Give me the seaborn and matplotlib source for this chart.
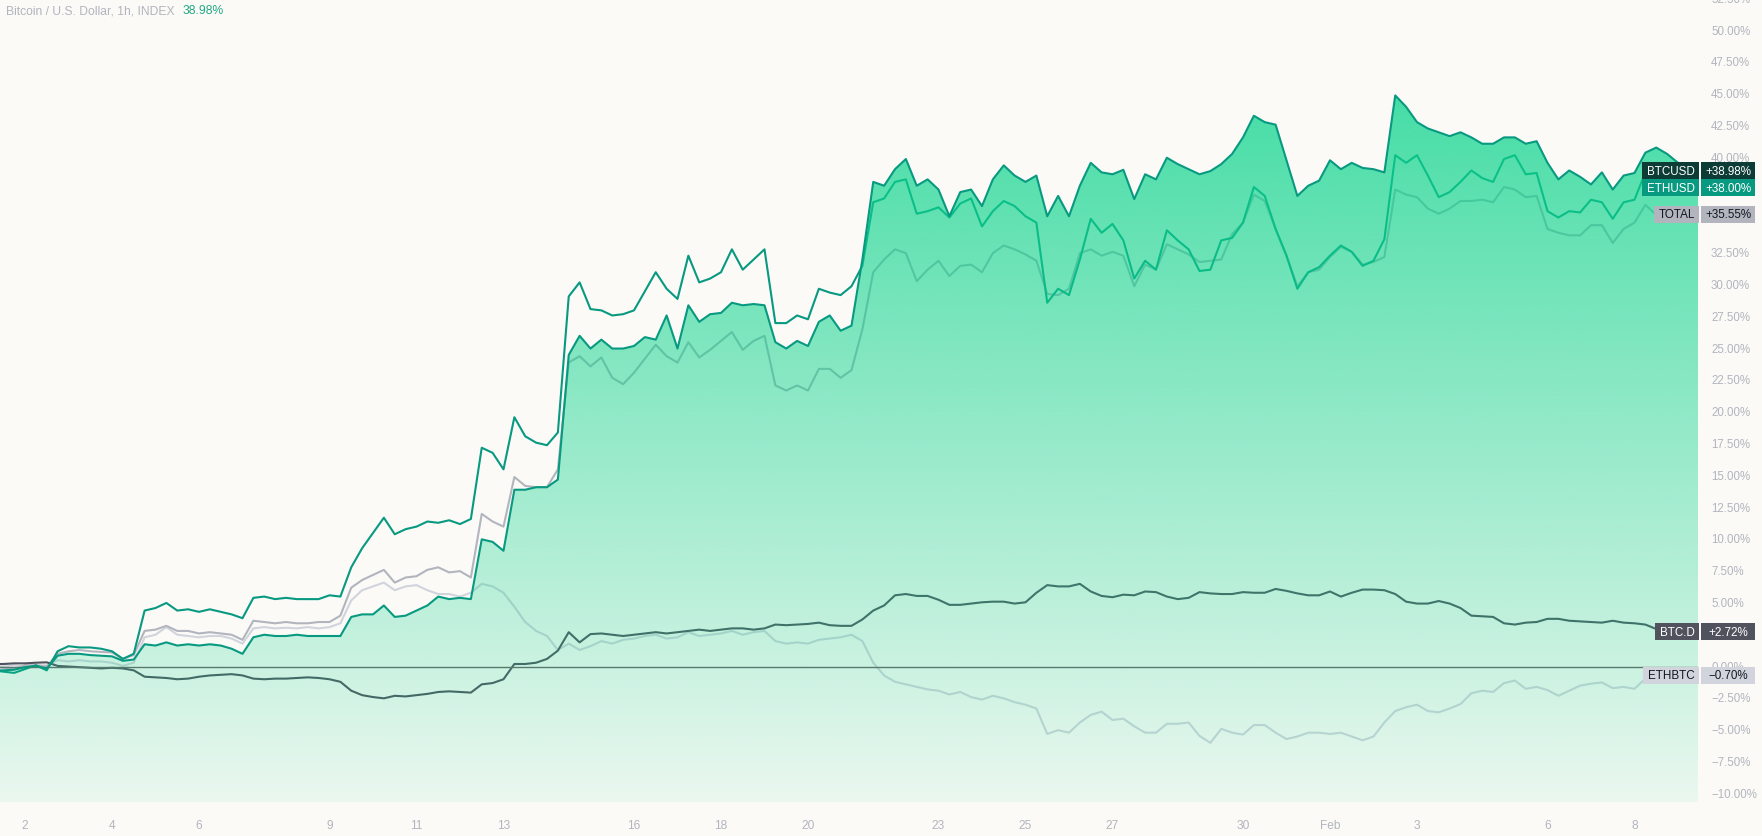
import numpy as np
import matplotlib
matplotlib.use("Agg")
import matplotlib.pyplot as plt
from matplotlib.patches import Rectangle
from matplotlib.transforms import IdentityTransform, blended_transform_factory
import seaborn as sns

OUT_PATH = "out.png"
W, H = 1762, 837
BG = "#fbfaf7"
AXIS_TXT = "#b2b5be"

# time axis: days since 2023-01-01 00:00, one reading every 6 hours
t_days = np.arange(1, 159) * 0.25

# % change (rows = one day, 4 readings each)
btcusd = [
    -0.3, -0.3, -0.25,
    -0.05, 0.05, -0.15, 0.85,   1.0, 1.0, 0.9, 0.85,   0.8, 0.45, 0.55, 1.75,
    1.65, 1.9, 1.65, 1.75,      1.65, 1.75, 1.65, 1.4,  1.0, 2.3, 2.5, 2.4,
    2.4, 2.5, 2.4, 2.4,         2.4, 2.4, 3.9, 4.1,     4.1, 4.8, 3.9, 4.0,
    4.4, 4.8, 5.5, 5.3,         5.4, 5.3, 10.0, 9.8,    9.1, 13.9, 13.9, 14.1,
    14.1, 14.7, 24.5, 26.0,     25.0, 25.7, 25.0, 25.0, 25.2, 25.9, 25.7, 27.6,
    25.0, 28.4, 27.1, 27.7,     27.8, 28.6, 28.4, 28.5, 28.4, 25.5, 25.0, 25.6,
    25.2, 27.1, 27.6, 26.4,     26.8, 32.0, 38.1, 37.8, 39.1, 39.9, 37.8, 38.3,
    37.5, 35.4, 37.3, 37.5,     36.2, 38.3, 39.4, 38.6, 38.1, 38.6, 35.4, 37.0,
    35.4, 37.8, 39.6, 38.85,    38.7, 39.05, 36.75, 38.7, 38.3, 40.0, 39.5, 39.1,
    38.7, 38.95, 39.5, 40.3,    41.6, 43.3, 42.8, 42.6, 39.8, 37.0, 37.8, 38.2,
    39.8, 39.1, 39.6, 39.2,     39.1, 38.85, 44.9, 44.0, 42.8, 42.3, 42.0, 41.7,
    42.0, 41.6, 41.1, 41.1,     41.6, 41.6, 41.1, 41.3, 39.6, 38.3, 39.0, 38.5,
    37.9, 38.85, 37.5, 38.6,    38.8, 40.4, 40.8, 40.3,
    39.6, 38.98, 38.98,
]
ethusd = [
    -0.3, -0.4, -0.5,
    -0.2, 0.1, -0.3, 1.2,       1.6, 1.5, 1.5, 1.4,     1.2, 0.6, 1.0, 4.4,
    4.6, 5.0, 4.4, 4.5,         4.3, 4.5, 4.3, 4.1,     3.8, 5.4, 5.5, 5.3,
    5.4, 5.3, 5.3, 5.3,         5.6, 5.5, 7.8, 9.3,     10.5, 11.7, 10.4, 10.8,
    11.0, 11.4, 11.3, 11.5,     11.2, 11.6, 17.2, 16.8, 15.5, 19.6, 18.1, 17.6,
    17.4, 18.4, 29.1, 30.2,     28.1, 28.0, 27.6, 27.7, 28.0, 29.5, 31.0, 29.7,
    28.9, 32.3, 30.2, 30.5,     31.0, 32.8, 31.2, 32.0, 32.8, 27.0, 27.0, 27.6,
    27.3, 29.7, 29.4, 29.2,     29.9, 31.5, 36.5, 36.8, 38.1, 38.3, 35.6, 35.8,
    36.1, 35.3, 36.4, 36.8,     34.6, 35.8, 36.6, 36.2, 35.4, 34.9, 28.6, 29.7,
    29.2, 32.0, 35.2, 34.1,     34.8, 33.5, 30.5, 31.9, 31.2, 34.3, 33.5, 32.8,
    31.1, 31.2, 33.5, 33.7,     34.9, 37.7, 37.0, 34.4, 32.3, 29.7, 31.0, 31.4,
    32.3, 33.1, 32.6, 31.5,     31.9, 33.6, 40.2, 39.6, 40.2, 38.6, 36.9, 37.3,
    38.1, 39.0, 38.4, 38.1,     39.9, 40.2, 38.7, 38.8, 35.8, 35.3, 35.8, 35.7,
    36.7, 36.5, 35.2, 36.5,     36.7, 38.85, 38.2, 37.7,
    38.2, 38.3, 38.0,
]
total = [
    0.0, -0.1, -0.2,
    0.1, 0.1, 0.0, 1.0,         1.2, 1.3, 1.2, 1.15,    1.1, 0.6, 0.9, 2.8,
    2.9, 3.2, 2.8, 2.8,         2.6, 2.7, 2.6, 2.5,     2.1, 3.6, 3.5, 3.4,
    3.5, 3.4, 3.4, 3.5,         3.5, 4.0, 6.2, 6.8,     7.2, 7.6, 6.6, 7.0,
    7.1, 7.6, 7.8, 7.4,         7.5, 7.0, 12.0, 11.4,   11.0, 14.9, 14.2, 14.1,
    14.1, 15.5, 23.9, 24.4,     23.6, 24.3, 22.7, 22.2, 23.1, 24.2, 25.3, 24.4,
    23.9, 25.5, 24.3, 24.9,     25.6, 26.3, 24.9, 25.6, 26.0, 22.1, 21.7, 22.1,
    21.7, 23.4, 23.4, 22.7,     23.3, 26.5, 31.0, 32.0, 32.8, 32.5, 30.3, 31.2,
    31.9, 30.7, 31.5, 31.6,     31.0, 32.5, 33.1, 32.8, 32.4, 31.9, 29.3, 29.2,
    29.7, 32.5, 32.8, 32.3,     32.6, 32.3, 29.9, 31.6, 31.2, 33.2, 32.8, 32.4,
    31.8, 31.9, 32.0, 34.0,     34.9, 37.1, 36.6, 34.4, 32.3, 29.9, 31.0, 31.2,
    32.2, 33.0, 32.6, 31.6,     31.8, 32.2, 37.5, 37.1, 36.9, 36.0, 35.6, 36.0,
    36.6, 36.6, 36.7, 36.5,     37.7, 37.5, 36.9, 37.0, 34.4, 34.1, 33.9, 33.9,
    34.7, 34.7, 33.3, 34.4,     34.9, 36.3, 35.5, 35.4,
    35.7, 35.55, 35.55,
]
btc_d = [
    0.2, 0.2, 0.25,
    0.25, 0.3, 0.33, 0.05,      0.0, -0.05, -0.1, -0.15, -0.1, -0.15, -0.3, -0.8,
    -0.85, -0.9, -1.0, -0.95,   -0.8, -0.7, -0.65, -0.6, -0.7, -0.95, -1.0, -0.95,
    -0.95, -0.9, -0.85, -0.9,   -1.0, -1.2, -1.9, -2.25, -2.4, -2.5, -2.3, -2.35,
    -2.25, -2.15, -2.0, -1.95,  -2.0, -2.05, -1.4, -1.3, -1.0, 0.2, 0.2, 0.3,
    0.6, 1.25, 2.7, 1.9,        2.55, 2.6, 2.5, 2.4,    2.5, 2.6, 2.7, 2.6,
    2.7, 2.8, 2.9, 2.8,         2.9, 3.0, 3.0, 2.9,     3.0, 3.3, 3.25, 3.3,
    3.35, 3.45, 3.25, 3.2,      3.2, 3.7, 4.4, 4.8,     5.6, 5.7, 5.55, 5.55,
    5.25, 4.85, 4.85, 4.95,     5.05, 5.1, 5.1, 4.95,   5.05, 5.8, 6.4, 6.3,
    6.3, 6.5, 5.9, 5.55,        5.45, 5.65, 5.6, 5.9,   5.85, 5.5, 5.3, 5.4,
    5.85, 5.75, 5.7, 5.7,       5.85, 5.8, 5.8, 6.1,    5.95, 5.75, 5.6, 5.6,
    5.9, 5.5, 5.8, 6.05,        6.05, 6.0, 5.7, 5.1,    4.95, 4.95, 5.15, 4.95,
    4.6, 4.0, 3.95, 3.9,        3.4, 3.3, 3.45, 3.5,    3.75, 3.75, 3.6, 3.55,
    3.5, 3.45, 3.6, 3.45,       3.4, 3.3, 2.95, 2.75,
    2.72, 2.72, 2.72,
]
ethbtc = [
    0.0, 0.0, 0.1,
    0.0, 0.1, 0.1, 0.5,         0.4, 0.5, 0.4, 0.4,     0.3, 0.05, 0.3, 2.3,
    2.5, 3.1, 2.5, 2.4,         2.3, 2.4, 2.4, 2.2,     1.8, 3.0, 3.1, 3.0,
    3.05, 3.0, 3.1, 3.0,        3.1, 3.4, 5.2, 6.0,     6.3, 6.6, 6.0, 6.3,
    6.4, 6.0, 5.7, 5.7,         5.5, 5.8, 6.5, 6.3,     5.8, 4.7, 3.5, 2.8,
    2.4, 1.3, 1.8, 1.3,         1.6, 2.0, 1.8, 2.1,     2.2, 2.4, 2.5, 2.2,
    2.3, 2.7, 2.4, 2.5,         2.6, 2.8, 2.5, 2.7,     2.8, 2.0, 1.8, 1.9,
    1.8, 2.1, 2.2, 2.3,         2.5, 2.0, 0.3, -0.7,    -1.2, -1.4, -1.6, -1.8,
    -1.9, -2.2, -2.0, -2.4,     -2.6, -2.3, -2.5, -2.8, -3.0, -3.3, -5.3, -5.0,
    -5.2, -4.4, -3.8, -3.55,    -4.2, -4.1, -4.7, -5.2, -5.2, -4.5, -4.5, -4.4,
    -5.45, -6.0, -4.9, -5.2,    -5.35, -4.6, -4.6, -5.2, -5.7, -5.5, -5.2, -5.2,
    -5.3, -5.2, -5.5, -5.8,     -5.5, -4.4, -3.5, -3.2, -3.0, -3.5, -3.6, -3.3,
    -2.95, -2.1, -1.9, -2.0,    -1.3, -1.1, -1.75, -1.6, -1.85, -2.3, -1.9, -1.5,
    -1.35, -1.25, -1.7, -1.6,   -1.75, -0.95, -0.7, -0.7,
    -0.7, -0.7, -0.7,
]

# x tick labels (day of month, Feb marks the month change)
tick_days = [1, 3, 5, 8, 10, 12, 15, 17, 19, 22, 24, 26, 29, 31, 33, 36, 38]
tick_labels = ["2", "4", "6", "9", "11", "13", "16", "18", "20", "23", "25",
               "27", "30", "Feb", "3", "6", "8"]

# right-side symbol labels: name, box colour, text colour
label_names = ["BTCUSD", "ETHUSD", "TOTAL", "BTC.D", "ETHBTC"]
label_bg = ["#0d3b36", "#089981", "#b2b5be", "#50535e", "#d1d4dc"]
label_fg = ["#ffffff", "#ffffff", "#131722", "#ffffff", "#131722"]


def main():
    series = [btcusd, ethusd, total, btc_d, ethbtc]
    for s in series:
        assert len(s) == len(t_days), len(s)

    sns.set_theme(style="white")
    plt.rcParams["font.family"] = ["Liberation Sans", "DejaVu Sans"]

    fig = plt.figure(figsize=(W / 100, H / 100), dpi=100, facecolor=BG)
    ax = fig.add_axes([0, 34 / H, 1698 / W, 803 / H])
    ax.set_facecolor(BG)
    x0, x1 = 0.4253, 39.46
    y0, y1 = -10.65, 52.48
    ax.set_xlim(x0, x1)
    ax.set_ylim(y0, y1)
    for sp in ax.spines.values():
        sp.set_visible(False)
    ax.set_xticks([])
    ax.set_yticks([])

    lw = 1.5
    # compare series sit under the area fill
    sns.lineplot(x=t_days, y=ethbtc, ax=ax, color="#d1d4dc", linewidth=lw, zorder=1)
    sns.lineplot(x=t_days, y=total, ax=ax, color="#b2b5be", linewidth=lw, zorder=1.2)
    sns.lineplot(x=t_days, y=btc_d, ax=ax, color="#50535e", linewidth=lw, zorder=1.4)
    sns.lineplot(x=t_days, y=ethusd, ax=ax, color="#089981", linewidth=lw, zorder=1.6)

    # gradient area under BTCUSD
    poly = ax.fill_between(t_days, btcusd, y0 - 1, facecolor="none", edgecolor="none")
    n = 256
    frac = np.linspace(0, 1, n)
    rgba = np.zeros((n, 1, 4))
    rgba[:, 0, 0] = 12 / 255
    rgba[:, 0, 1] = 212 / 255
    rgba[:, 0, 2] = 140 / 255
    rgba[:, 0, 3] = 0.76 - 0.69 * frac
    im = ax.imshow(rgba, extent=[x0, x1, y0, max(btcusd)], aspect="auto",
                   origin="upper", zorder=3, interpolation="bilinear")
    im.set_clip_path(poly.get_paths()[0], transform=ax.transData)
    ax.set_xlim(x0, x1)
    ax.set_ylim(y0, y1)

    ax.axhline(0, color="#587a6e", linewidth=1.0, zorder=4)
    sns.lineplot(x=t_days, y=btcusd, ax=ax, color="#089981", linewidth=lw, zorder=5)
    if ax.get_legend():
        ax.get_legend().remove()
    ax.set_xlabel("")
    ax.set_ylabel("")

    renderer = fig.canvas.get_renderer()

    # symbol label positions (pixels), pushed down when they would collide
    box_h = 17
    last_vals = [s[-1] for s in series]
    centers = []
    prev_bottom = None
    for val in last_vals:
        yc = ax.transData.transform((x1, val))[1]
        if prev_bottom is not None and yc + box_h / 2 > prev_bottom:
            yc = prev_bottom - box_h / 2
        prev_bottom = yc - box_h / 2
        centers.append(yc)

    # price scale on the right (labels hidden behind a symbol box are skipped)
    ytr = blended_transform_factory(fig.transFigure, ax.transData)
    for v in np.arange(-10, 52.6, 2.5):
        yp = ax.transData.transform((x1, v))[1]
        if any(abs(yp - c) < box_h / 2 for c in centers):
            continue
        txt = f"{v:.2f}%".replace("-", "\u2212")
        fig.text(1711 / W, v, txt, transform=ytr, ha="left", va="center",
                 color=AXIS_TXT, fontsize=8.3, zorder=1)

    # time scale
    xtr = blended_transform_factory(ax.transData, fig.transFigure)
    for d, lab in zip(tick_days, tick_labels):
        fig.text(d, 11 / H, lab, transform=xtr, ha="center", va="center",
                 color=AXIS_TXT, fontsize=8.6)

    # title
    t1 = fig.text(6 / W, 1 - 11 / H, "Bitcoin / U.S. Dollar, 1h, INDEX",
                  color=AXIS_TXT, fontsize=8.7, va="center", ha="left")
    bb = t1.get_window_extent(renderer)
    fig.text((bb.x1 + 8) / W, 1 - 11 / H, f"{btcusd[-1]:.2f}%", color="#22a884",
             fontsize=8.7, va="center", ha="left")

    # symbol labels at the right edge
    for name, val, bg, fg, yc in zip(label_names, last_vals, label_bg, label_fg, centers):
        nt = fig.text(1695, yc, name, transform=IdentityTransform(), ha="right",
                      va="center", color=fg, fontsize=8.4, zorder=11)
        nb = nt.get_window_extent(renderer)
        fig.add_artist(Rectangle((nb.x0 - 5, yc - box_h / 2), 1699 - (nb.x0 - 5), box_h,
                                 transform=IdentityTransform(), facecolor=bg,
                                 edgecolor="none", zorder=10))
        vt = f"{val:+.2f}%".replace("-", "\u2212")
        fig.text(1728, yc, vt, transform=IdentityTransform(), ha="center",
                 va="center", color=fg, fontsize=8.4, zorder=11)
        fig.add_artist(Rectangle((1701, yc - box_h / 2), 54, box_h,
                                 transform=IdentityTransform(), facecolor=bg,
                                 edgecolor="none", zorder=10))

    fig.savefig(OUT_PATH, dpi=100, facecolor=BG)
    plt.close(fig)


if __name__ == "__main__":
    main()
